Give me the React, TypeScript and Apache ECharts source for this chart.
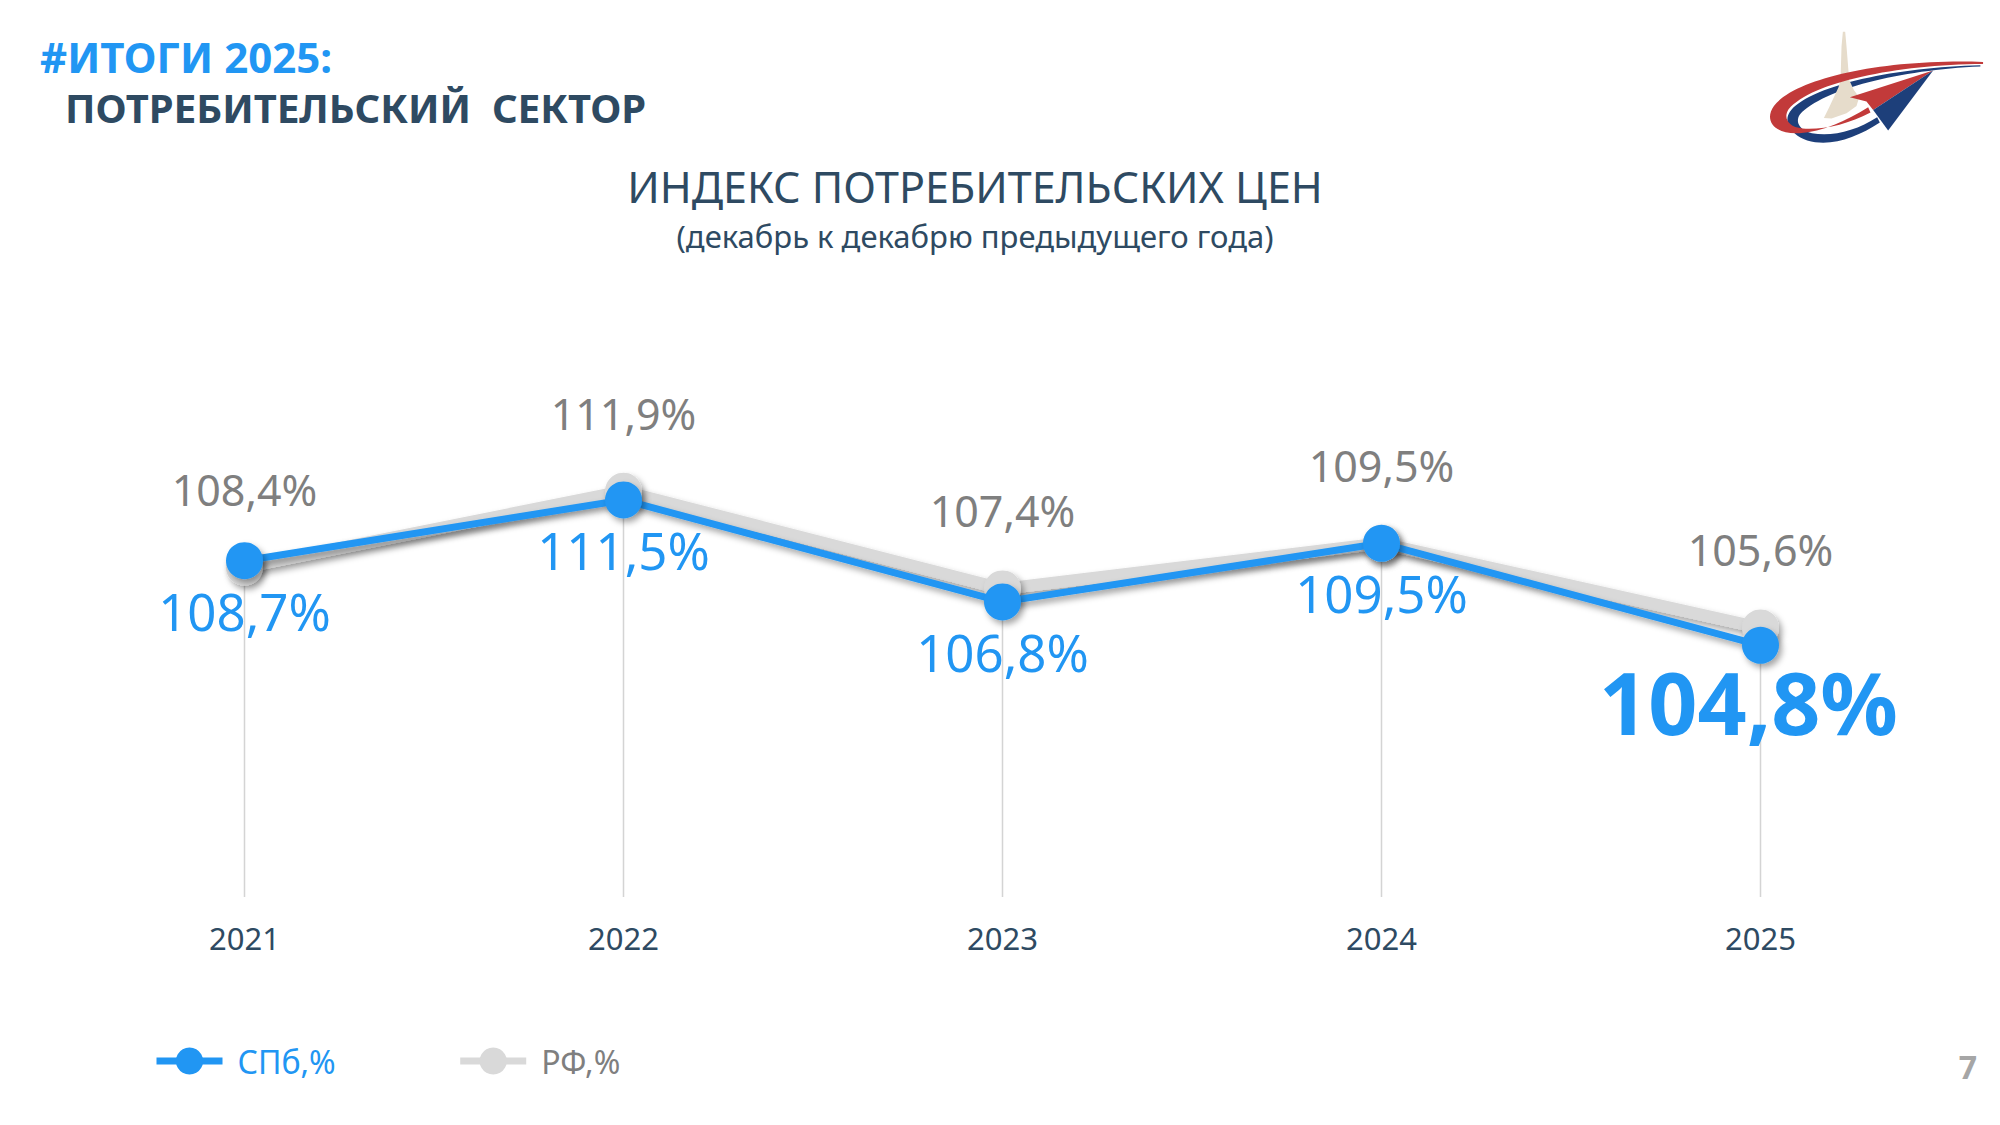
import React, { useEffect, useRef } from "react";
import * as echarts from "echarts";

// ---- data ----
const years = ["2021", "2022", "2023", "2024", "2025"];
const spbValues = [108.7, 111.5, 106.8, 109.5, 104.8];
const rfValues = [108.4, 111.9, 107.4, 109.5, 105.6];
const seriesNames = ["СПб,%", "РФ,%"];

const headerLine1 = "#ИТОГИ 2025:";
const headerLine2 = "ПОТРЕБИТЕЛЬСКИЙ  СЕКТОР";
const chartTitle = "ИНДЕКС ПОТРЕБИТЕЛЬСКИХ ЦЕН";
const chartSubtitle = "(декабрь к декабрю предыдущего года)";
const pageNumber = "7";

// ---- style ----
const FONT = "'Noto Sans', 'Open Sans', sans-serif";
const BLUE = "#2196f3";
const GRAY_LINE = "#d9d9d9";
const GRAY_TEXT = "#7f7f7f";
const DARK = "#2e4a62";

// ---- logo shapes (drawn in a local 900x480 box, scaled by 1/3) ----
const RED_BAND =
  "M850,186 C560,176 290,232 222,318 C192,360 220,404 298,400 C368,396 440,362 505,322 L512,338 C444,374 372,390 308,386 C262,382 250,352 266,328 C336,246 588,194 850,192 Z";
const BLUE_BAND =
  "M842,196 C590,202 344,254 274,330 C250,358 262,398 322,422 C392,442 470,414 540,368 L532,352 C470,392 396,412 336,400 C296,390 286,364 300,344 C370,268 600,210 842,200 Z";

echarts.graphic.registerShape("logoRedBand", echarts.graphic.extendPath(RED_BAND, {}));
echarts.graphic.registerShape("logoBlueBand", echarts.graphic.extendPath(BLUE_BAND, {}));

const fmt = (v: number) => v.toFixed(1).replace(".", ",") + "%";

export default function App() {
  const ref = useRef<HTMLDivElement>(null);

  useEffect(() => {
    if (!ref.current) return;
    const chart = echarts.init(ref.current, undefined, { renderer: "svg" });

    const lineShadow = {
      shadowColor: "rgba(0,0,0,0.35)",
      shadowBlur: 6,
      shadowOffsetX: 3,
      shadowOffsetY: 4,
    };

    const dropValues = years.map((_, i) => Math.max(spbValues[i], rfValues[i]));
    const last = spbValues.length - 1;

    const option: any = {
      animation: false,
      backgroundColor: "#ffffff",
      textStyle: { fontFamily: FONT },
      grid: { left: 55, right: 50, top: 207, bottom: 228, containLabel: false },
      xAxis: {
        type: "category",
        data: years,
        boundaryGap: true,
        axisLine: { show: false },
        axisTick: { show: false },
        splitLine: { show: false },
        axisLabel: { color: DARK, fontSize: 31, fontFamily: FONT, margin: 25 },
      },
      yAxis: {
        type: "value",
        min: 93.2,
        max: 125,
        show: false,
        splitLine: { show: false },
      },
      legend: {
        data: [
          { name: seriesNames[0], textStyle: { color: BLUE } },
          { name: seriesNames[1], textStyle: { color: GRAY_TEXT } },
        ],
        left: 148,
        top: 1040,
        itemWidth: 66,
        itemHeight: 34,
        itemGap: 121,
        lineStyle: { width: 7 },
        textStyle: { fontSize: 32, fontFamily: FONT, padding: [0, 0, 0, 10] },
      },
      graphic: [
        {
          type: "text",
          left: 40,
          top: 35,
          style: { text: headerLine1, fill: BLUE, font: `bold 42px ${FONT}` },
        },
        {
          type: "text",
          left: 65,
          top: 87,
          style: { text: headerLine2, fill: DARK, font: `bold 40px ${FONT}` },
        },
        {
          type: "text",
          x: 975,
          y: 186,
          style: {
            text: chartTitle,
            fill: DARK,
            font: `43px ${FONT}`,
            align: "center",
            verticalAlign: "middle",
          },
        },
        {
          type: "text",
          x: 975,
          y: 236,
          style: {
            text: chartSubtitle,
            fill: DARK,
            font: `31px ${FONT}`,
            align: "center",
            verticalAlign: "middle",
          },
        },
        {
          type: "text",
          x: 1968,
          y: 1066,
          style: {
            text: pageNumber,
            fill: "#a6a6a6",
            font: `bold 32px ${FONT}`,
            align: "center",
            verticalAlign: "middle",
          },
        },
        {
          type: "group",
          x: 1700,
          y: 0,
          scaleX: 1 / 3,
          scaleY: 1 / 3,
          children: [
            { type: "logoBlueBand", style: { fill: "#1d3f7a" } },
            {
              type: "polygon",
              shape: {
                points: [
                  [429, 95], [436, 95], [440, 140], [448, 240], [462, 270], [478, 292],
                  [470, 318], [440, 340], [395, 356], [372, 354], [388, 322], [402, 292],
                  [416, 262], [422, 240], [425, 140],
                ],
              },
              style: { fill: "#e6dccb" },
            },
            { type: "logoRedBand", style: { fill: "#c23a3a" } },
            {
              type: "polygon",
              shape: { points: [[700, 212], [450, 292], [500, 305], [520, 330]] },
              style: { fill: "#c23a3a" },
            },
            {
              type: "polygon",
              shape: { points: [[700, 212], [520, 330], [565, 392]] },
              style: { fill: "#1d3f7a" },
            },
          ],
        },
      ],
      series: [
        {
          name: "drop",
          type: "bar",
          data: dropValues,
          barWidth: 1.5,
          silent: true,
          z: 1,
          itemStyle: { color: "#d4d4d4" },
        },
        {
          name: seriesNames[1],
          type: "line",
          data: rfValues,
          z: 3,
          symbol: "circle",
          symbolSize: 37,
          color: GRAY_LINE,
          lineStyle: { color: GRAY_LINE, width: 12, ...lineShadow },
          itemStyle: { color: GRAY_LINE, ...lineShadow },
          label: {
            show: true,
            position: "top",
            distance: 38,
            color: GRAY_TEXT,
            fontSize: 43,
            fontFamily: FONT,
            formatter: (p: any) => fmt(p.value),
          },
        },
        {
          name: seriesNames[0],
          type: "line",
          data: spbValues.map((v, i) =>
            i === last
              ? {
                  value: v,
                  label: { fontSize: 86, fontWeight: "bold", distance: -5, offset: [-12, 0] },
                }
              : v
          ),
          z: 4,
          symbol: "circle",
          symbolSize: 37,
          color: BLUE,
          lineStyle: { color: BLUE, width: 7, ...lineShadow },
          itemStyle: { color: BLUE, ...lineShadow },
          label: {
            show: true,
            position: "bottom",
            distance: 6,
            color: BLUE,
            fontSize: 51,
            fontFamily: FONT,
            formatter: (p: any) => fmt(typeof p.value === "number" ? p.value : p.data.value),
          },
        },
      ],
    };

    chart.setOption(option);
    return () => chart.dispose();
  }, []);

  return (
    <div
      ref={ref}
      style={{ position: "absolute", left: 0, top: 0, width: 2000, height: 1125 }}
    />
  );
}
